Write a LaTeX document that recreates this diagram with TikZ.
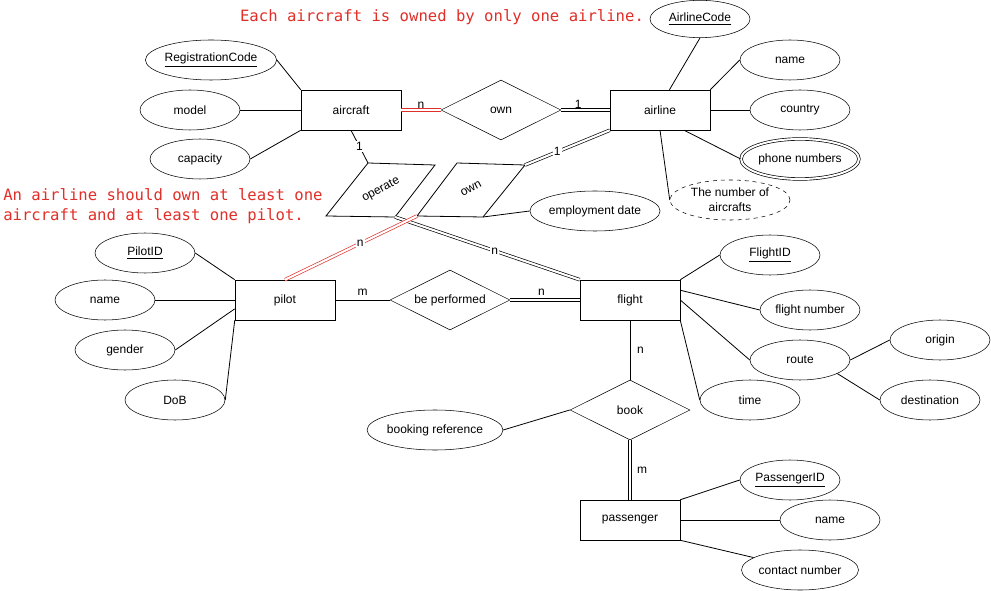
\documentclass[tikz,border=0pt]{standalone}
\usepackage{fontspec}
\setmainfont{Liberation Sans}
\newfontfamily\notefont{DejaVu Sans Mono}
\usepackage{tikz}
\usetikzlibrary{shapes.geometric}
\definecolor{notered}{RGB}{224,46,40}

\tikzset{
  txt/.style={font=\fontsize{9}{11}\selectfont},
  entity/.style={txt, draw, minimum width=75pt, minimum height=30pt, inner sep=0pt},
  attr/.style={txt, draw, ellipse, minimum width=75pt, minimum height=30pt, inner sep=0pt},
  rel/.style={txt, draw, diamond, aspect=2, minimum width=90pt, minimum height=45pt, inner sep=0pt},
  link/.style={line width=0.6pt},
  dbl/.style={double, double distance=1.6pt, line width=0.5pt},
  reddbl/.style={dbl, draw=notered},
  card/.style={txt, inner sep=1pt},
  note/.style={text=notered, font=\notefont\fontsize{11.7}{15}\selectfont, inner sep=0pt}
}

\begin{document}
\begin{tikzpicture}[x=0.75pt, y=-0.75pt]
      \useasboundingbox (0,0) rectangle (991,591);
      % Notes
      \node[note] (note1) at (442,17) {Each aircraft is owned by only one airline.};
      \node[note, align=left, anchor=west] (note2) at (3,206) {An airline should own at least one\\aircraft and at least one pilot.};
      % Entities
      \node[entity] (aircraft) at (351,110) {aircraft};
      \node[entity] (airline) at (660,110) {airline};
      \node[entity] (pilot) at (285,300) {pilot};
      \node[entity] (flight) at (630,300) {flight};
      \node[entity] (passenger) at (630,520) {passenger};
      % Relationships
      \node[rel] (own) at (501,110) {own};
      \node[rel] (perf) at (450,300) {be performed};
      \node[rel] (book) at (630,410) {book};
      % Skewed relationships: operate and own (pilot)
      \coordinate (op1) at (368,163);
      \coordinate (op2) at (435,165);
      \coordinate (op3) at (395,217);
      \coordinate (op4) at (326,216);
      \draw[link] (op1) -- (op2) -- (op3) -- (op4) -- cycle;
      \node[txt, rotate=28, inner sep=0pt] (operate) at (381,190) {operate};
      \coordinate (ow1) at (457,163);
      \coordinate (ow2) at (525,165);
      \coordinate (ow3) at (483,217);
      \coordinate (ow4) at (417,216);
      \draw[link] (ow1) -- (ow2) -- (ow3) -- (ow4) -- cycle;
      \node[txt, rotate=28, inner sep=0pt] (ownpilot) at (471,189) {own};
      % Attributes of aircraft
      \node[attr] (regcode) at (211,60) {\underline{RegistrationCode}};
      \node[attr] (model) at (190,110) {model};
      \node[attr] (capacity) at (200,159) {capacity};
      % Attributes of airline
      \node[attr, minimum height=28pt] (acode) at (700,19) {\underline{AirlineCode}};
      \node[attr] (aname) at (790,60) {name};
      \node[attr] (country) at (800,110) {country};
      \node[attr, double, double distance=1.5pt, line width=0.5pt] (phone) at (800,159) {phone numbers};
      \node[attr, dashed, minimum width=90pt, align=center] (numac) at (730,200) {The number of\\aircrafts};
      \node[attr, minimum width=97.5pt] (empdate) at (595,211) {employment date};
      % Attributes of pilot
      \node[attr] (pilotid) at (145,253) {\underline{PilotID}};
      \node[attr] (pname) at (105,300) {name};
      \node[attr] (gender) at (125,350) {gender};
      \node[attr] (dob) at (175,400) {DoB};
      % Attributes of flight
      \node[attr] (flightid) at (770,255) {\underline{FlightID}};
      \node[attr] (fnum) at (810,310) {flight number};
      \node[attr] (route) at (800,360) {route};
      \node[attr] (ftime) at (750,400) {time};
      \node[attr] (origin) at (940,340) {origin};
      \node[attr] (dest) at (930,400) {destination};
      \node[attr, minimum width=97.5pt] (bookref) at (435,430) {booking reference};
      % Attributes of passenger
      \node[attr] (paxid) at (790,480) {\underline{PassengerID}};
      \node[attr] (pxname) at (830,520) {name};
      \node[attr] (contact) at (800,570) {contact number};
      % Attribute links
      \draw[link] (regcode.east) -- (aircraft.north west);
      \draw[link] (model.east) -- (aircraft.west);
      \draw[link] (capacity.east) -- (aircraft.south west);
      \draw[link] (acode.south) -- (airline.65);
      \draw[link] (aname.west) -- (airline.north east);
      \draw[link] (country.west) -- (airline.east);
      \draw[link] (phone.west) -- (airline.-40);
      \draw[link] (numac.west) -- (airline.south);
      \draw[link] (ow3) -- (empdate.west);
      \draw[link] (pilotid.east) -- (pilot.north west);
      \draw[link] (pname.east) -- (pilot.west);
      \draw[link] (gender.east) -- (pilot.190);
      \draw[link] (dob.east) -- (pilot.south west);
      \draw[link] (flightid.west) -- (flight.north east);
      \draw[link] (fnum.west) -- (flight.11);
      \draw[link] (route.west) -- (flight.east);
      \draw[link] (ftime.west) -- (flight.south east);
      \draw[link] (route.east) -- (origin.west);
      \draw[link] (route.-20) -- (dest.west);
      \draw[link] (bookref.east) -- (book.west);
      \draw[link] (paxid.west) -- (passenger.north east);
      \draw[link] (pxname.west) -- (passenger.east);
      \draw[link] (contact.165) -- (passenger.south east);
      % Relationship links with cardinalities
      \draw[reddbl] (aircraft.east) -- node[card, above] {n} (own.west);
      \draw[dbl] (own.east) -- node[card, above, pos=0.35] {1} (airline.west);
      \draw[link] (aircraft.south) -- node[card, fill=white] {1} (op1);
      \draw[dbl] (op3) -- node[card, fill=white, pos=0.54] {n} (flight.north west);
      \draw[reddbl] (pilot.north) -- node[card, fill=white, pos=0.57] {n} (ow4);
      \draw[dbl] (ow2) -- node[card, fill=white, pos=0.38] {1} (airline.south west);
      \draw[link] (pilot.east) -- node[card, above=2pt] {m} (perf.west);
      \draw[dbl] (perf.east) -- node[card, above=2pt, pos=0.45] {n} (flight.west);
      \draw[link] (flight.south) -- node[card, right=4pt] {n} (book.north);
      \draw[dbl] (book.south) -- node[card, right=4pt] {m} (passenger.north);
\end{tikzpicture}
\end{document}
